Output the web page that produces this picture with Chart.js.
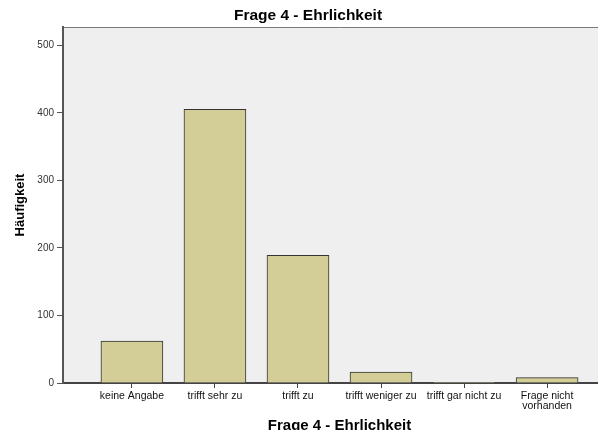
<!DOCTYPE html>
<html>
<head>
<meta charset="utf-8">
<script src="https://cdn.jsdelivr.net/npm/chart.js@4.4.1/dist/chart.umd.min.js"></script>
<style>
  html, body { margin: 0; padding: 0; background: #fff; overflow: hidden; }
  #wrap { position: absolute; left: 0; top: 0; width: 622px; height: 440px; }
</style>
</head>
<body>
<div id="wrap"><canvas id="chart" width="622" height="440"></canvas></div>
<script>
const categories = ['keine Angabe', 'trifft sehr zu', 'trifft zu', 'trifft weniger zu', 'trifft gar nicht zu', ['Frage nicht', 'vorhanden']];
const counts = [62, 405, 189, 16, 1, 8];
const yTicks = [0, 100, 200, 300, 400, 500];
const titleText = 'Frage 4 - Ehrlichkeit';

Chart.defaults.font.family = '"Liberation Sans", Arial, sans-serif';

// grey plot background + thin top frame line
const plotBg = {
    id: 'plotBg',
    beforeDraw(chart) {
        const { ctx, chartArea: a } = chart;
        ctx.save();
        ctx.fillStyle = '#efefef';
        ctx.fillRect(a.left, a.top, a.right - a.left, a.bottom - a.top);
        ctx.strokeStyle = '#7a7a7a';
        ctx.lineWidth = 1;
        ctx.beginPath();
        ctx.moveTo(a.left, a.top + 0.5);
        ctx.lineTo(a.right, a.top + 0.5);
        ctx.stroke();
        ctx.restore();
    }
};

new Chart(document.getElementById('chart'), {
    type: 'bar',
    data: {
        datasets: [{
            data: counts.map((v, i) => ({ x: i, y: v })),
            backgroundColor: '#d3ce97',
            borderColor: '#333',
            borderWidth: 1,
            barThickness: 62
        }]
    },
    options: {
        responsive: false,
        animation: false,
        layout: { padding: { left: 0, right: 6, top: 0, bottom: 0 } },
        plugins: {
            legend: { display: false },
            tooltip: { enabled: false },
            title: {
                display: true,
                text: titleText,
                color: '#000',
                font: { size: 15.5, weight: 'bold' },
                padding: { top: 6, bottom: 2.4 }
            }
        },
        scales: {
            x: {
                type: 'linear',
                offset: false,
                min: -0.83,
                max: 5.83,
                afterBuildTicks: s => { s.ticks = categories.map((c, i) => ({ value: i })); },
                afterFit: s => { s.height = 57; },
                ticks: {
                    autoSkip: false,
                    maxRotation: 0,
                    padding: 3,
                    color: '#111',
                    font: { size: 10.5, lineHeight: 0.95 },
                    callback: v => categories[v]
                },
                grid: { offset: false, drawOnChartArea: false, drawTicks: true, tickLength: 5, tickColor: '#444', tickWidth: 1 },
                border: { display: true, color: '#444', width: 2 },
                title: {
                    display: true,
                    text: titleText,
                    color: '#000',
                    font: { size: 15, weight: 'bold' },
                    padding: { top: 0, bottom: 5 }
                }
            },
            y: {
                min: 0,
                max: 527,
                afterBuildTicks: s => { s.ticks = yTicks.map(v => ({ value: v })); },
                afterFit: s => { s.width = 63; },
                ticks: { padding: 3, color: '#333', font: { size: 10 } },
                grid: { drawOnChartArea: false, drawTicks: true, tickLength: 6, tickColor: '#555', tickWidth: 1 },
                border: { display: true, color: '#555', width: 2 },
                title: {
                    display: true,
                    text: 'Häufigkeit',
                    color: '#000',
                    font: { size: 13, weight: 'bold' },
                    padding: { top: 13, bottom: 0 }
                }
            }
        }
    },
    plugins: [plotBg]
});
</script>
</body>
</html>
